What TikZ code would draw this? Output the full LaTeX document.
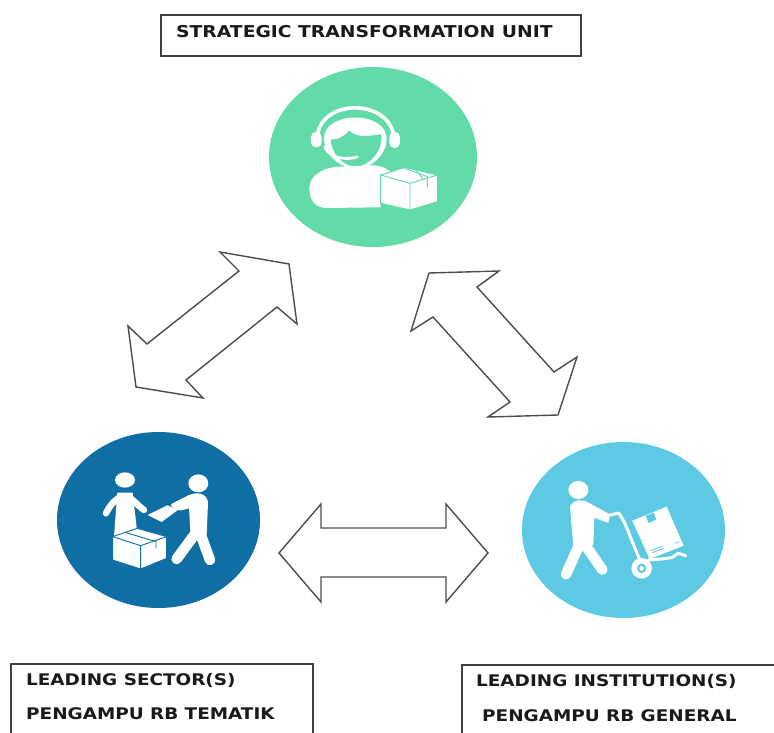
\documentclass[tikz,border=0pt]{standalone}
\usepackage{fontspec}
\setmainfont{DejaVu Sans}
\newfontfamily\lblfont[FakeStretch=1.15]{DejaVu Sans}
\definecolor{cgreen}{HTML}{62DBA8}
\definecolor{cdark}{HTML}{0F6EA3}
\definecolor{clight}{HTML}{5EC9E2}
\tikzset{
  labelbox/.style={draw=black!75,line width=1.3pt},
  arrowshape/.style={draw=black!70,line width=1.4pt,fill=white,line join=miter},
  lab/.style={anchor=west,inner sep=0pt,font=\lblfont\bfseries\fontsize{16.3}{18}\selectfont,text=black!90},
  sublab/.style={anchor=west,inner sep=0pt,font=\lblfont\bfseries\fontsize{16}{18}\selectfont,text=black!90},
  wh/.style={fill=white,draw=none},
  wline/.style={draw=white,line cap=round,line join=round},
}
\begin{document}
\begin{tikzpicture}[x=1pt,y=-1pt]
\useasboundingbox (0,0) rectangle (774,733);
% label boxes
\draw[labelbox] (161,15) rectangle (581,56);
\draw[labelbox] (11,733) -- (11,664) -- (313,664) -- (313,733);
\draw[labelbox] (462,733) -- (462,665) -- (774,665);
\node[lab] (top) at (176,32) {STRATEGIC TRANSFORMATION UNIT};
\node[sublab] (ls) at (26,680) {LEADING SECTOR(S)};
\node[sublab] (lst) at (26,714) {PENGAMPU RB TEMATIK};
\node[sublab] (li) at (476,681) {LEADING INSTITUTION(S)};
\node[sublab] (lig) at (482,716) {PENGAMPU RB GENERAL};
% discs
\fill[cgreen] (373,157) ellipse [x radius=104,y radius=90];
\fill[cdark] (158.5,520) ellipse [x radius=101.5,y radius=88];
\fill[clight] (623.5,530) ellipse [x radius=101.5,y radius=88];
% double arrows
\draw[arrowshape] (220,252)--(289,264)--(297,324)--(277,307)--(186,380)--(203,398)--(136,387)--(128,326)--(147,344)--(239,271)--cycle;
\draw[arrowshape] (429,273)--(499,271)--(477,287)--(554,372)--(577,357)--(558,415)--(488,417)--(510,402)--(433,317)--(411,331)--cycle;
\draw[arrowshape] (279,553)--(321,504)--(321,528)--(446,528)--(446,504)--(488,553)--(446,602)--(446,577)--(321,577)--(321,602)--cycle;
% green icon
\begin{scope}[shift={(260,60)},x=0.3333pt,y=-0.3333pt]
  \draw[wline,line width=3.6pt] (172,250) .. controls (158,108) and (412,108) .. (402,250);
  \fill[wh,rounded corners=5pt] (153,216) rectangle (185,262);
  \fill[wh,rounded corners=5pt] (388,216) rectangle (420,264);
  \fill[wh] (192,240) .. controls (186,150) and (385,150) .. (380,240) .. controls (376,290) and (330,326) .. (288,326) .. controls (245,326) and (197,290) .. (192,240) -- cycle;
  \fill[cgreen] (212,238) .. controls (240,240) and (255,225) .. (268,212) .. controls (290,235) and (330,228) .. (364,222) .. controls (370,270) and (330,318) .. (288,320) .. controls (250,320) and (213,280) .. (212,238) -- cycle;
  \draw[wline,line width=2.8pt] (195,262) .. controls (210,297) and (260,300) .. (292,291);
  \fill[wh] (148,385) .. controls (148,345) and (190,322) .. (240,320) -- (340,316) .. controls (370,318) and (390,330) .. (400,345) -- (362,430) -- (362,442) -- (200,444) .. controls (170,444) and (148,425) .. (148,385) -- cycle;
  \draw[draw=cgreen,line width=1pt,fill=white,line join=round] (362,345) -- (435,322) -- (533,345) -- (533,425) -- (450,450) -- (362,430) -- cycle;
  \draw[cgreen,line width=0.9pt] (362,345) -- (450,370) -- (533,345) (450,370) -- (450,450) (432,324) -- (502,350) -- (502,382) (462,324) -- (490,358);
\end{scope}
% dark icon
\begin{scope}[shift={(50,425)},x=0.3333pt,y=-0.3333pt]
  \fill[wh] (225,165) ellipse [x radius=30,y radius=23];
  \draw[wline,line width=6.5pt] (222,214) .. controls (195,218) and (178,245) .. (168,265);
  \draw[wline,line width=6.5pt] (228,214) .. controls (252,222) and (265,245) .. (282,255);
  \fill[wh] (202,203) -- (248,203) -- (262,325) -- (192,335) -- cycle;
  \draw[draw=cdark,line width=0.9pt,fill=white,line join=round] (188,335) -- (262,310) -- (350,335) -- (350,400) -- (272,432) -- (188,405) -- cycle;
  \draw[cdark,line width=0.9pt] (188,335) -- (272,362) -- (350,335) (272,362) -- (272,432) (225,322) -- (318,350) -- (318,370);
  \fill[wh] (445,175) ellipse [x radius=30,y radius=27];
  \fill[wh] (293,270) -- (352,241) -- (385,254) -- (335,291) -- cycle;
  \fill[wh,rounded corners=3pt] (425,206) -- (358,240) -- (388,258) -- (425,248) -- cycle;
  \fill[wh] (415,212) .. controls (440,198) and (474,205) .. (474,235) -- (470,330) -- (422,335) -- cycle;
  \draw[wline,line width=10.5pt] (446,312) -- (380,402);
  \draw[wline,line width=10.5pt] (446,312) -- (480,405);
\end{scope}
% light icon
\begin{scope}[shift={(515,435)},x=0.3333pt,y=-0.3333pt]
  \fill[wh] (190,165) ellipse [x radius=30,y radius=27];
  \fill[wh] (165,215) .. controls (175,192) and (205,192) .. (220,203) -- (285,238) -- (280,264) -- (238,248) -- (235,330) -- (175,335) -- cycle;
  \draw[wline,line width=10.5pt] (198,318) -- (153,418);
  \draw[wline,line width=10.5pt] (205,322) -- (262,404);
  \draw[wline,line width=3pt] (285,240) -- (312,234) -- (328,262) -- (340,290) -- (362,345) -- (382,392);
  \draw[wline,line width=3pt] (400,375) -- (440,372) -- (470,368) -- (490,355) -- (512,362);
  \fill[wh] (380,400) circle [radius=31];
  \fill[clight] (380,400) circle [radius=14];
  \fill[wh] (380,400) circle [radius=7];
  \fill[wh] (352,257) -- (455,215) -- (506,332) -- (404,372) -- cycle;
  \fill[clight] (392,243) -- (416,233) -- (424,254) -- (401,264) -- cycle;
  \draw[clight,line width=0.8pt] (408,347) -- (443,333) (412,353) -- (447,339) (480,325) -- (492,320);
\end{scope}
\end{tikzpicture}
\end{document}
